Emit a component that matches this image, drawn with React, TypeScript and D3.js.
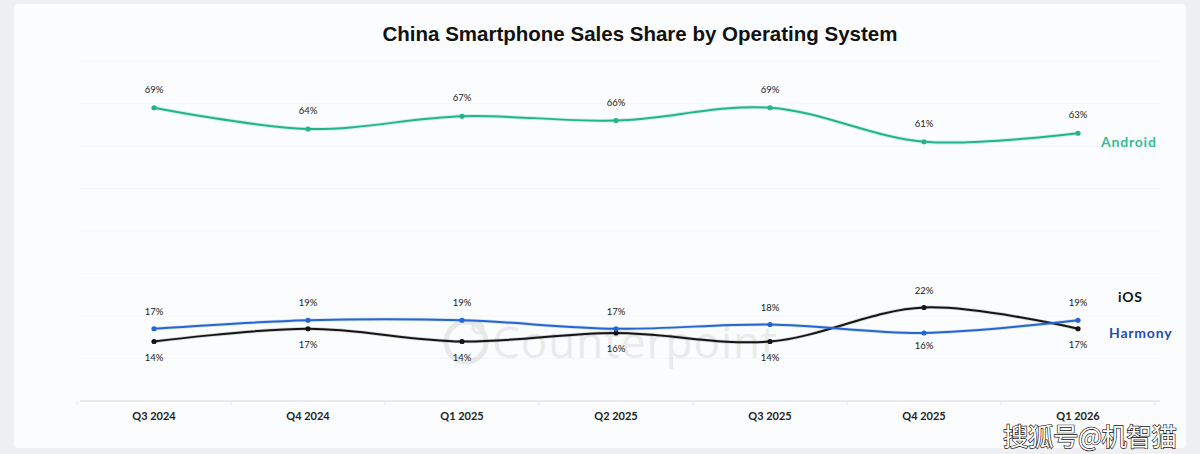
import React from "react";
import * as d3 from "d3";

const quarters = ["Q3 2024", "Q4 2024", "Q1 2025", "Q2 2025", "Q3 2025", "Q4 2025", "Q1 2026"];
const android = [69, 64, 67, 66, 69, 61, 63];
const ios = [14, 17, 14, 16, 14, 22, 17];
const harmony = [17, 19, 19, 17, 18, 16, 19];
const gridTicks = [0, 10, 20, 30, 40, 50, 60, 70, 80];

const W = 1200;
const H = 454;

export default function App() {
  const x = d3.scaleBand<string>().domain(quarters).range([77, 1155]);
  const cx = (q: string) => (x(q) as number) + x.bandwidth() / 2;
  const y = d3.scaleLinear().domain([0, 80]).range([401, 61]);
  const line = d3
    .line<number>()
    .x((_, i) => cx(quarters[i]))
    .y((v) => y(v))
    .curve(d3.curveCatmullRom.alpha(0.5));

  const labelFont = "Lato, 'Open Sans', sans-serif";
  const series = [
    { name: "Android", data: android, color: "#22b58c", legend: "#35bd94", ly: y(android[6]) + 14, lx: 1101 },
    { name: "iOS", data: ios, color: "#151515", legend: "#111", ly: 302, lx: 1118 },
    { name: "Harmony", data: harmony, color: "#2566cf", legend: "#1f4fb0", ly: 338, lx: 1109 },
  ];

  return (
    <svg width={W} height={H} style={{ display: "block", position: "absolute", left: 0, top: 0 }}>
      <rect x={0} y={0} width={W} height={H} fill="#eef0f3" />
      <rect x={14} y={4} width={1172} height={444} rx={4} fill="#fbfcfd" />
      <text x={640} y={41} textAnchor="middle" fontFamily="'Liberation Sans', Arial, sans-serif" fontWeight={700} fontSize={20.5} fill="#111">
        China Smartphone Sales Share by Operating System
      </text>
      {gridTicks.map((t) => (
        <line key={t} x1={80} x2={1160} y1={y(t)} y2={y(t)} stroke={t === 0 ? "#e2e4e8" : "#f5f6f8"} strokeWidth={t === 0 ? 1.5 : 1} />
      ))}
      {quarters.map((q, i) => (
        <line key={"tk" + i} x1={x(q) as number} x2={x(q) as number} y1={y(0)} y2={y(0) + 4} stroke="#e6e8eb" />
      ))}
      <line x1={1155} x2={1155} y1={y(0)} y2={y(0) + 4} stroke="#e6e8eb" />
      {/* Counterpoint watermark */}
      <g opacity={0.55}>
        <circle cx={466} cy={342} r={20} fill="none" stroke="#d8d8d8" strokeWidth={5} />
        <circle cx={478} cy={328} r={5} fill="none" stroke="#d8d8d8" strokeWidth={3} />
        <text x={492} y={358} fontFamily="'Open Sans', sans-serif" fontSize={44} fill="#dcdcdc" letterSpacing={1}>
          Counterpoint
        </text>
      </g>
      {quarters.map((q) => (
        <text key={q} x={cx(q)} y={420} textAnchor="middle" fontFamily={labelFont} fontWeight={700} fontSize={11} fill="#222">
          {q}
        </text>
      ))}
      {series.map((s) => (
        <g key={s.name}>
          <path d={line(s.data) || ""} fill="none" stroke={s.color} strokeWidth={s.name === "Android" ? 4 : 3.5} strokeOpacity={0.18} />
          <path d={line(s.data) || ""} fill="none" stroke={s.color} strokeWidth={2} />
          {s.data.map((v, i) => (
            <circle key={i} cx={cx(quarters[i])} cy={y(v)} r={2.6} fill={s.color} />
          ))}
          <text x={s.lx} y={s.ly} fontFamily={labelFont} fontWeight={700} fontSize={14} letterSpacing={0.8} fill={s.legend}>
            {s.name}
          </text>
        </g>
      ))}
      {android.map((v, i) => (
        <text key={"a" + i} x={cx(quarters[i])} y={y(v) - 15} textAnchor="middle" fontFamily={labelFont} fontSize={9.5} fill="#222">
          {v}%
        </text>
      ))}
      {ios.map((v, i) => {
        const above = v > harmony[i];
        return (
          <text key={"i" + i} x={cx(quarters[i])} y={above ? y(v) - 14 : y(v) + 19} textAnchor="middle" fontFamily={labelFont} fontSize={9.5} fill="#222">
            {v}%
          </text>
        );
      })}
      {harmony.map((v, i) => {
        const above = v >= ios[i];
        return (
          <text key={"h" + i} x={cx(quarters[i])} y={above ? y(v) - 14 : y(v) + 16} textAnchor="middle" fontFamily={labelFont} fontSize={9.5} fill="#222">
            {v}%
          </text>
        );
      })}
      <text x={1003} y={446} fontFamily="'Noto Sans CJK SC', sans-serif" fontSize={25.5} fill="#ffffff" stroke="#111" strokeWidth={1.3} paintOrder="stroke" letterSpacing={-0.5}>
        搜狐号@机智猫
      </text>
    </svg>
  );
}
